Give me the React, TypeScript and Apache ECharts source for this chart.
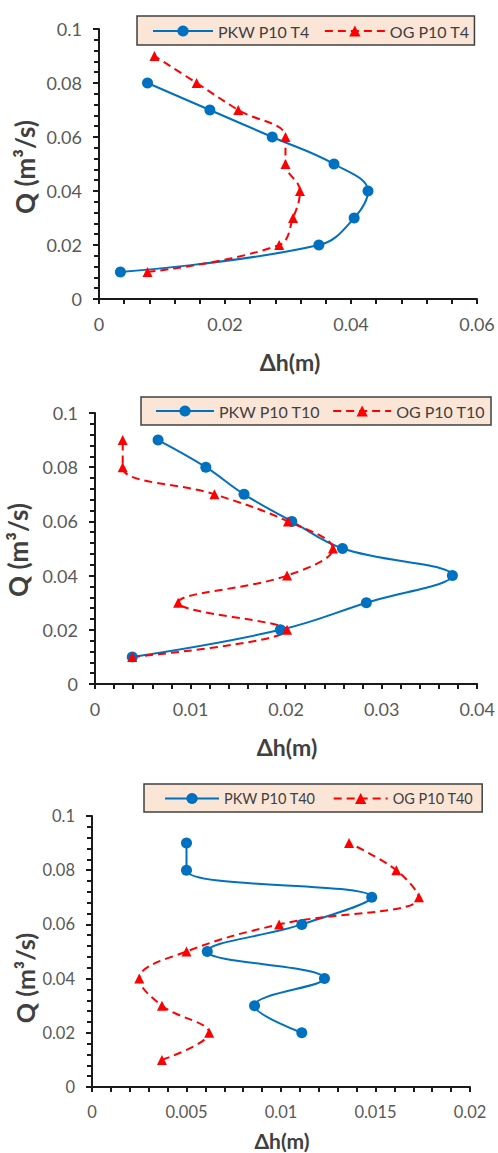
import React, { useEffect, useRef } from "react";
import * as echarts from "echarts";

// Discharge levels Q (m³/s), shared by every series
const qLevels = [0.01, 0.02, 0.03, 0.04, 0.05, 0.06, 0.07, 0.08, 0.09];

// Head loss Δh (m) per discharge level; null = not measured
const pkwT4 = [0.0034, 0.0349, 0.0405, 0.0427, 0.0373, 0.0275, 0.0176, 0.0077, null];
const ogT4 = [0.0077, 0.0286, 0.0308, 0.0319, 0.0296, 0.0296, 0.0221, 0.0155, 0.0088];
const pkwT10 = [0.0039, 0.0194, 0.0284, 0.0374, 0.0259, 0.0206, 0.0156, 0.0116, 0.0066];
const ogT10 = [0.0039, 0.0201, 0.0087, 0.0201, 0.0249, 0.0202, 0.0125, 0.0029, 0.0029];
const pkwT40 = [null, 0.0111, 0.0086, 0.0123, 0.0061, 0.0111, 0.0148, 0.005, 0.005];
const ogT40 = [0.0037, 0.0062, 0.0037, 0.0025, 0.005, 0.0099, 0.0173, 0.0161, 0.0136];

// Axis ranges per panel
const xMaxes = [0.06, 0.04, 0.02];
const xSteps = [0.02, 0.01, 0.005];
const yMax = 0.1;
const yStep = 0.02;

const panelNames = [
  ["PKW P10 T4", "OG P10 T4"],
  ["PKW P10 T10", "OG P10 T10"],
  ["PKW P10 T40", "OG P10 T40"],
];
const panelData = [
  [pkwT4, ogT4],
  [pkwT10, ogT10],
  [pkwT40, ogT40],
];

const FONT = 'Lato, "Open Sans", sans-serif';
const BLUE = "#0070C0";
const RED = "#FF0000";

const grids = [
  { left: 99, top: 29, width: 378, height: 270 },
  { left: 95, top: 413, width: 385, height: 271 },
  { left: 92, top: 816, width: 378, height: 271 },
];
// Per-panel text sizes (the lowest panel is set slightly smaller)
const tickFont = [18, 18, 16.5];
const hTitleFont = [23, 23, 21];
const qTitleFont = [26, 26, 25];
const legendFont = [16, 16, 14.5];

const legendLayout = [
  { left: 137, top: 16, itemWidth: 60, itemGap: 14, padding: [7, 5, 6, 15] },
  { left: 141, top: 397, itemWidth: 58, itemGap: 12, padding: [6, 6, 6, 14] },
  { left: 144, top: 784, itemWidth: 54, itemGap: 17, padding: [7, 9, 6, 20] },
];
const qTitlePos = [
  [25, 167],
  [18, 550],
  [25, 978],
];
const hTitlePos = [
  [290, 362],
  [287, 747],
  [282, 1140],
];

function pairs(dh: (number | null)[]) {
  const out: [number, number][] = [];
  dh.forEach((v, i) => {
    if (v !== null) out.push([v, qLevels[i]]);
  });
  return out;
}

const axisLineStyle = { color: "#1a1a1a", width: 2 };

export default function App() {
  const ref = useRef<HTMLDivElement>(null);

  useEffect(() => {
    if (!ref.current) return;
    const chart = echarts.init(ref.current, undefined, { renderer: "svg" });

    const xAxis = xMaxes.map((mx, i) => ({
      type: "value",
      gridIndex: i,
      min: 0,
      max: mx,
      interval: xSteps[i],
      axisLine: { show: true, onZero: false, lineStyle: axisLineStyle },
      axisTick: { show: true, length: 5, lineStyle: axisLineStyle },
      minorTick: { show: true, splitNumber: 5, length: 5, lineStyle: axisLineStyle },
      splitLine: { show: false },
      axisLabel: { margin: 16, fontSize: tickFont[i], color: "#595959", fontFamily: FONT },
    }));

    const yAxis = grids.map((_, i) => ({
      type: "value",
      gridIndex: i,
      min: 0,
      max: yMax,
      interval: yStep,
      axisLine: { show: true, onZero: false, lineStyle: axisLineStyle },
      axisTick: { show: true, length: 6, lineStyle: axisLineStyle },
      minorTick: { show: true, splitNumber: 5, length: 5, lineStyle: axisLineStyle },
      splitLine: { show: false },
      axisLabel: { margin: 17, fontSize: tickFont[i], color: "#595959", fontFamily: FONT },
    }));

    const series: any[] = [];
    panelData.forEach(([pkw, og], i) => {
      series.push({
        name: panelNames[i][0],
        type: "line",
        xAxisIndex: i,
        yAxisIndex: i,
        data: pairs(pkw),
        smooth: 0.4,
        symbol: "circle",
        symbolSize: 11,
        itemStyle: { color: BLUE },
        lineStyle: { color: BLUE, width: 2 },
      });
      series.push({
        name: panelNames[i][1],
        type: "line",
        xAxisIndex: i,
        yAxisIndex: i,
        data: pairs(og),
        smooth: 0.4,
        symbol: "triangle",
        symbolSize: 10,
        itemStyle: { color: RED },
        lineStyle: { color: RED, width: 2, type: [8, 5] },
      });
    });

    const legend = panelNames.map((names, i) => ({
      data: names,
      left: legendLayout[i].left,
      top: legendLayout[i].top,
      width: 380,
      orient: "horizontal",
      padding: legendLayout[i].padding,
      itemGap: legendLayout[i].itemGap,
      itemWidth: legendLayout[i].itemWidth,
      itemHeight: 14,
      selectedMode: false,
      backgroundColor: "#FBE5D6",
      borderColor: "#404040",
      borderWidth: 1.5,
      borderRadius: 0,
      textStyle: { fontSize: legendFont[i], color: "#404040", fontFamily: FONT },
    }));

    const graphic: any[] = [];
    qTitlePos.forEach(([x, y], i) => {
      graphic.push({
        type: "text",
        x,
        y,
        rotation: Math.PI / 2,
        style: {
          text: "Q (m³/s)",
          font: `bold ${qTitleFont[i]}px ${FONT}`,
          fill: "#404040",
          textAlign: "center",
          textVerticalAlign: "middle",
        },
      });
    });
    hTitlePos.forEach(([x, y], i) => {
      graphic.push({
        type: "text",
        x,
        y,
        style: {
          text: "Δh(m)",
          font: `bold ${hTitleFont[i]}px ${FONT}`,
          fill: "#404040",
          textAlign: "center",
          textVerticalAlign: "middle",
        },
      });
    });

    chart.setOption({
      animation: false,
      backgroundColor: "#ffffff",
      grid: grids,
      xAxis,
      yAxis,
      series,
      legend,
      graphic,
    });

    return () => chart.dispose();
  }, []);

  return (
    <div
      ref={ref}
      style={{ position: "fixed", left: 0, top: 0, width: 498, height: 1153 }}
    />
  );
}
